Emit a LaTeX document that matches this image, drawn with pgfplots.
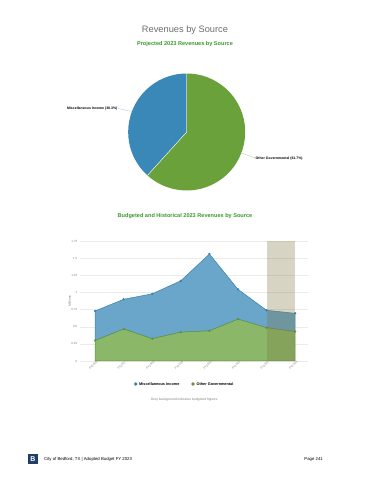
\documentclass[border=0pt]{standalone}
\usepackage{fontspec}
\setmainfont{Liberation Sans}
\usepackage{pgfplots}
\pgfplotsset{compat=1.18}
\definecolor{pieblue}{HTML}{3A88B7}
\definecolor{piegreen}{HTML}{6AA13B}
\definecolor{areablue}{HTML}{69A6C9}
\definecolor{areagreen}{HTML}{8BB868}
\definecolor{lineblue}{HTML}{3F7FA8}
\definecolor{linegreen}{HTML}{5E9140}
\definecolor{titlegreen}{HTML}{3A9A2A}
\definecolor{titlegrey}{HTML}{6E6E6E}
\definecolor{bandc}{HTML}{7D733E}
\definecolor{logoblue}{HTML}{1F3F66}
\newcommand{\fs}[1]{\fontsize{#1}{#1}\selectfont}
\begin{document}
\begin{tikzpicture}[x=1bp,y=1bp]
\fill[white] (0,0) rectangle (370,480);
% titles
\node[text=titlegrey] at (185,450) {\fs{9.3}Revenues by Source};
\node[text=titlegreen,font=\bfseries] at (185,436) {\fs{5.6}Projected 2023 Revenues by Source};
% pie
\def\cx{186.7}\def\cy{348}\def\r{58.5}
\pgfmathsetmacro{\misc}{38.3}
\pgfmathsetmacro{\other}{61.7}
\pgfmathsetmacro{\aend}{90+3.6*\misc}
\fill[pieblue] (\cx,\cy) -- ++(90:\r) arc[start angle=90,end angle=\aend,radius=\r] -- cycle;
\fill[piegreen] (\cx,\cy) -- ++(\aend:\r) arc[start angle=\aend,end angle=450,radius=\r] -- cycle;
\draw[white,line width=0.4] (\cx,\cy) -- ++(90:\r) (\cx,\cy) -- ++(\aend:\r);
\draw[pieblue!50,line width=0.3] (118,371.5) -- (132,368.5);
\draw[piegreen!60,line width=0.3] (241.5,327) -- (255,322);
\node[anchor=east,font=\bfseries,inner sep=0.5] at (118,371.5) {\fs{3.5}Miscellaneous Income (38.3\%)};
\node[anchor=west,font=\bfseries,inner sep=0.5] at (255,321.5) {\fs{3.5}Other Governmental (61.7\%)};
% area chart title
\node[text=titlegreen,font=\bfseries] at (185,264) {\fs{5.6}Budgeted and Historical 2023 Revenues by Source};
\begin{axis}[
  at={(80bp,119bp)}, anchor=south west,
  width=228bp, height=120bp, scale only axis,
  xmin=-0.53, xmax=7.45, ymin=0, ymax=1.75,
  ytick={0,0.25,0.5,0.75,1,1.25,1.5,1.75},
  yticklabels={0,0.25,0.5,0.75,1,1.25,1.5,1.75},
  xtick={0,...,7},
  xticklabels={FY2016,FY2017,FY2018,FY2019,FY2020,FY2021,FY2022,FY2023},
  x tick label style={rotate=45,anchor=north east,font=\fs{3},text=gray,inner sep=0.5,xshift=1.5bp},
  y tick label style={font=\fs{3},text=gray,inner sep=1},
  yticklabel style={xshift=-1.5bp},
  ylabel={Millions}, ylabel style={font=\fs{3.3},text=gray},
  ylabel shift=-4bp,
  axis line style={draw=none}, major tick style={draw=none},
  ymajorgrids, major grid style={black!8,line width=0.4},
  stack plots=y, clip=false,
]
\addplot[draw=linegreen,line width=0.5,fill=areagreen,mark=*,mark size=0.9,mark options={fill=linegreen,draw=linegreen}]
  coordinates {(0,0.300) (1,0.466) (2,0.325) (3,0.420) (4,0.440) (5,0.610) (6,0.485) (7,0.429)} \closedcycle;
\addplot[draw=lineblue,line width=0.5,fill=areablue,mark=*,mark size=0.9,mark options={fill=lineblue,draw=lineblue}]
  coordinates {(0,0.430) (1,0.434) (2,0.655) (3,0.750) (4,1.120) (5,0.435) (6,0.255) (7,0.266)} \closedcycle;
\end{axis}
% budget band overlay (data-independent background region)
\begin{axis}[
  at={(80bp,119bp)}, anchor=south west,
  width=228bp, height=120bp, scale only axis,
  xmin=-0.53, xmax=7.45, ymin=0, ymax=1.75, hide axis]
\addplot[draw=none,fill=bandc,fill opacity=0.3] coordinates {(6,0) (6,1.75) (7,1.75) (7,0)} -- cycle;
\end{axis}
% legend
\fill[lineblue] (135.7,96) circle (1.8);
\node[anchor=west,inner sep=0,font=\bfseries] at (139,96) {\fs{3.8}Miscellaneous Income};
\fill[linegreen] (193,96) circle (1.8);
\node[anchor=west,inner sep=0,font=\bfseries] at (196.5,96) {\fs{3.8}Other Governmental};
\node[text=gray] at (184.5,80) {\fs{3.4}Grey background indicates budgeted figures.};
% footer
\fill[logoblue] (28,459.5-444) rectangle (38,470-444);
\node[white,font=\bfseries] at (33,20.5) {\fs{7}B};
\node[anchor=west,inner sep=0] at (44,20.5) {\fs{4.3}City of Bedford, TX | Adopted Budget FY 2023};
\node[anchor=east,inner sep=0] at (323,20.5) {\fs{4.3}Page 241};
\end{tikzpicture}
\end{document}
